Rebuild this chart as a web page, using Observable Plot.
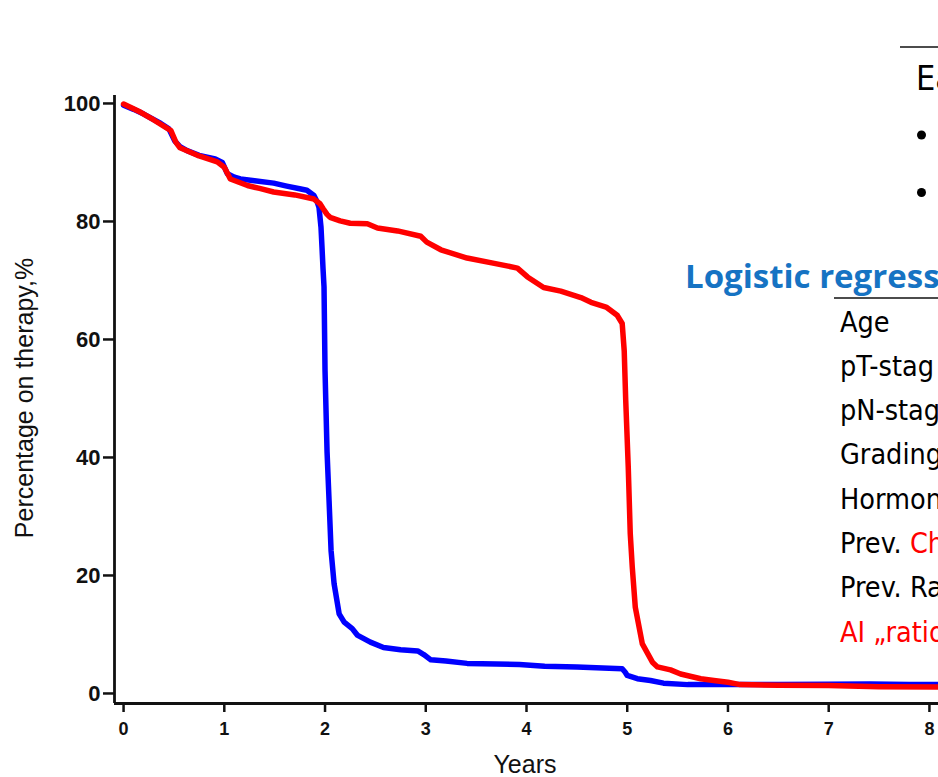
<!DOCTYPE html>
<html>
<head>
<meta charset="utf-8">
<script src="https://cdn.jsdelivr.net/npm/d3@7"></script>
<script src="https://cdn.jsdelivr.net/npm/@observablehq/plot@0.6"></script>
<style>
  html, body { margin: 0; padding: 0; background: #fff; overflow: hidden; }
  #chart { width: 938px; height: 777px; position: relative; }
</style>
</head>
<body>
<div id="chart"></div>
<script>
// ---- data ----
const blueYears = [0, 0.1, 0.2, 0.37, 0.45, 0.51, 0.56, 0.63, 0.75, 0.91, 0.98, 1.03, 1.1, 1.16, 1.3, 1.49, 1.62, 1.76, 1.82, 1.89, 1.92, 1.94, 1.96, 1.97, 1.98, 1.99, 2.0, 2.02, 2.04, 2.06, 2.09, 2.14, 2.19, 2.27, 2.32, 2.45, 2.58, 2.75, 2.92, 2.98, 3.05, 3.2, 3.41, 3.7, 3.93, 4.18, 4.5, 4.95, 4.98, 5.0, 5.1, 5.23, 5.36, 5.6, 6.0, 6.5, 7.0, 7.41, 7.8, 8.09];
const bluePct   = [99.7, 99.0, 98.2, 96.6, 95.7, 93.6, 92.7, 92.0, 91.2, 90.6, 90.0, 88.1, 87.5, 87.2, 86.9, 86.5, 86.0, 85.5, 85.3, 84.4, 83.4, 82.4, 79.0, 75.6, 72.0, 68.9, 54.7, 41.0, 32.7, 24.2, 18.6, 13.5, 12.1, 11.0, 9.9, 8.7, 7.8, 7.4, 7.2, 6.6, 5.7, 5.5, 5.1, 5.0, 4.9, 4.6, 4.5, 4.2, 3.6, 3.05, 2.5, 2.2, 1.75, 1.5, 1.5, 1.5, 1.55, 1.6, 1.5, 1.5];

const redYears = [0, 0.17, 0.3, 0.47, 0.52, 0.56, 0.63, 0.75, 0.93, 1.0, 1.06, 1.23, 1.35, 1.49, 1.7, 1.89, 1.95, 1.98, 2.02, 2.05, 2.15, 2.25, 2.42, 2.52, 2.72, 2.95, 3.01, 3.15, 3.41, 3.68, 3.91, 4.01, 4.17, 4.34, 4.54, 4.64, 4.79, 4.9, 4.95, 4.97, 4.985, 5.01, 5.03, 5.05, 5.08, 5.15, 5.25, 5.3, 5.43, 5.53, 5.73, 5.86, 6.0, 6.12, 6.5, 7.0, 7.5, 8.09];
const redPct   = [99.9, 98.5, 97.2, 95.4, 93.4, 92.5, 92.0, 91.1, 90.1, 89.2, 87.2, 86.1, 85.6, 85.0, 84.5, 83.8, 83.0, 82.2, 81.2, 80.7, 80.1, 79.7, 79.6, 78.9, 78.4, 77.5, 76.5, 75.2, 73.8, 72.9, 72.1, 70.6, 68.8, 68.2, 67.1, 66.3, 65.5, 64.1, 62.7, 58.1, 49.7, 38.4, 27.1, 21.4, 14.6, 8.4, 5.3, 4.5, 4.0, 3.3, 2.5, 2.2, 1.9, 1.5, 1.4, 1.35, 1.15, 1.1];

const xTicks = [0, 1, 2, 3, 4, 5, 6, 7, 8];
const yTicks = [0, 20, 40, 60, 80, 100];
const xDomain = [-0.09, 8.09];
const yDomain = [-1.7, 101.35];
const xLabel = "Years";
const yLabel = "Percentage on therapy,%";

// overlay slide texts (cut at the right edge in the reference)
const headText = "Ea";
const regressionTitle = "Logistic regress";
const rowLabels = ["Age", "pT-stag", "pN-stag", "Grading", "Hormon", "Prev. ", "Prev. Ra", "AI \u201Eratio"];
const rowRedParts = ["", "", "", "", "", "Ch", "", ""];
const rowAllRed = [false, false, false, false, false, false, false, true];

const blue = blueYears.map((t, i) => ({t, v: bluePct[i]}));
const red = redYears.map((t, i) => ({t, v: redPct[i]}));

const plot = Plot.plot({
  width: 938,
  height: 777,
  marginLeft: 114,
  marginRight: 0,
  marginTop: 95,
  marginBottom: 74,
  style: {fontFamily: "'Liberation Sans', Arial, sans-serif", background: "#fff", color: "#111"},
  x: {domain: xDomain, ticks: xTicks},
  y: {domain: yDomain, ticks: yTicks},
  marks: [
    Plot.axisX({ticks: xTicks, tickSize: 9, tickPadding: 10, fontSize: 18, fontWeight: "bold", strokeWidth: 2.5, label: null, tickFormat: d => String(d)}),
    Plot.axisY({ticks: yTicks, tickSize: 11, tickPadding: 3, fontSize: 22, fontWeight: "bold", strokeWidth: 2.5, label: null, tickFormat: d => String(d)}),
    Plot.ruleX([xDomain[0]], {stroke: "#111", strokeWidth: 2.8}),
    Plot.ruleY([yDomain[0]], {stroke: "#111", strokeWidth: 2.8}),
    Plot.line(blue, {x: "t", y: "v", stroke: "#0000ff", strokeWidth: 5.5, strokeLinejoin: "round", strokeLinecap: "round"}),
    Plot.line(red, {x: "t", y: "v", stroke: "#ff0000", strokeWidth: 5.5, strokeLinejoin: "round", strokeLinecap: "round"})
  ]
});

document.getElementById("chart").appendChild(plot);

const svg = d3.select(plot);

// axis titles
svg.append("text")
  .attr("x", 525).attr("y", 773)
  .attr("text-anchor", "middle")
  .attr("font-family", "'Liberation Sans', Arial, sans-serif")
  .attr("font-size", 25).attr("fill", "#111")
  .text(xLabel);

svg.append("text")
  .attr("transform", "translate(33,398) rotate(-90)")
  .attr("text-anchor", "middle")
  .attr("font-family", "'Liberation Sans', Arial, sans-serif")
  .attr("font-size", 25).attr("fill", "#111")
  .text(yLabel);

// overlay slide elements
const cond = "'DejaVu Sans Condensed', 'DejaVu Sans', sans-serif";
svg.append("line").attr("x1", 900).attr("x2", 940).attr("y1", 47).attr("y2", 47)
  .attr("stroke", "#111").attr("stroke-width", 1.6);
svg.append("text").attr("x", 916).attr("y", 90).attr("text-anchor", "start")
  .attr("font-family", cond).attr("font-stretch", "condensed").attr("font-size", 34).attr("fill", "#000")
  .text(headText);
[135, 192.5].forEach(cy => svg.append("circle").attr("cx", 921.5).attr("cy", cy).attr("r", 4.5).attr("fill", "#000"));

svg.append("text").attr("x", 685).attr("y", 288).attr("text-anchor", "start")
  .attr("font-family", "'Open Sans', 'Noto Sans', sans-serif").attr("font-weight", "bold")
  .attr("font-size", 33).attr("fill", "#1673c3")
  .text(regressionTitle);
svg.append("line").attr("x1", 834).attr("x2", 940).attr("y1", 298).attr("y2", 298)
  .attr("stroke", "#111").attr("stroke-width", 1.6);

rowLabels.forEach((lab, i) => {
  const t = svg.append("text").attr("x", 840).attr("y", 331.5 + 44.3 * i).attr("text-anchor", "start")
    .attr("font-family", cond).attr("font-stretch", "condensed").attr("font-size", 28.5)
    .attr("fill", rowAllRed[i] ? "#ff0000" : "#000");
  t.append("tspan").text(lab);
  if (rowRedParts[i]) t.append("tspan").attr("fill", "#ff0000").text(rowRedParts[i]);
});
</script>
</body>
</html>
